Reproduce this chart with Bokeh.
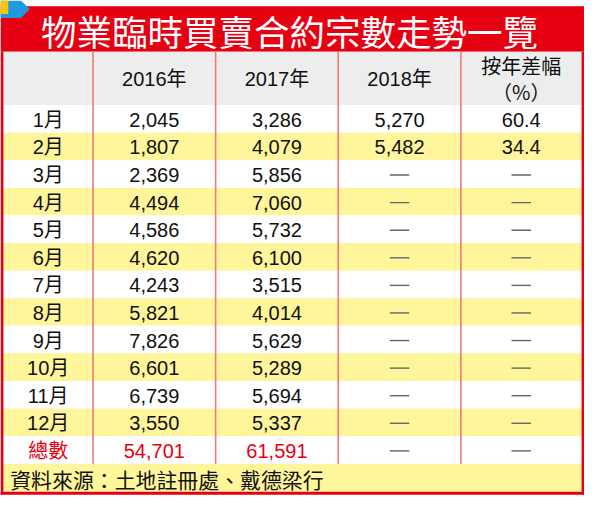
from bokeh.plotting import figure
from bokeh.models import Range1d, ColumnDataSource
from bokeh.core.properties import value
from bokeh.embed import file_html
from bokeh.resources import INLINE

# ---- data ----
title = "物業臨時買賣合約宗數走勢一覽"
months = ["1月", "2月", "3月", "4月", "5月", "6月", "7月", "8月", "9月", "10月", "11月", "12月"]
sales_2016 = [2045, 1807, 2369, 4494, 4586, 4620, 4243, 5821, 7826, 6601, 6739, 3550]
sales_2017 = [3286, 4079, 5856, 7060, 5732, 6100, 3515, 4014, 5629, 5289, 5694, 5337]
sales_2018 = [5270, 5482]
yoy_pct = [60.4, 34.4]
col_headers = ["", "2016年", "2017年", "2018年", "按年差幅\n（%）"]
total_label = "總數"
source_note = "資料來源：土地註冊處、戴德梁行"

# ---- layout (reference pixel space) ----
W, H = 600, 516
S = 584 / 600.0
title_top, title_bot = 6, 53
head_top, head_bot = 53, 108
n_rows = len(months) + 1
row_h = (478 - head_bot) / n_rows
foot_bot = 507
col_edges = [3, 95, 221, 347, 473, 597]
col_c = [(col_edges[i] + col_edges[i + 1]) / 2 for i in range(5)]

RED = "#E60012"
YEL = "#FFF59B"
GRAY = "#EDEDED"
LINE = "#F07A7A"
CJK = value("'Liberation Sans', 'Noto Sans CJK TC', sans-serif")
CJK_ONLY = value("'Noto Sans CJK TC', sans-serif")
BODY = 20.5

p = figure(width=584, height=500, x_range=Range1d(0, W), y_range=Range1d(H, 0),
           output_backend="svg", toolbar_location=None, min_border=0)
p.axis.visible = False
p.grid.visible = False
p.outline_line_color = None
p.background_fill_color = "white"
p.border_fill_color = "white"

def fs(px):
    return "%.1fpx" % (px * S)

# title band
p.quad(left=[0], right=[W], top=[title_top], bottom=[title_bot], fill_color=RED, line_color=None)
# corner decoration
p.patch([0, 21, 30, 21, 0], [0, 0, 9, 18, 18], fill_color="#1E9BE0", line_color=None)
p.quad(left=[0], right=[8], top=[0], bottom=[14], fill_color="#F7C600", line_color=None)
p.text(x=[W / 2 - 3], y=[(title_top + title_bot) / 2 + 1], text=[title], text_color="white",
       text_font=CJK_ONLY, text_font_size=fs(36.5), text_align="center", text_baseline="middle")

# header background
p.quad(left=[col_edges[0]], right=[col_edges[-1]], top=[head_top], bottom=[head_bot],
       fill_color=GRAY, line_color=None)

# row stripes
row_tops = [head_bot + i * row_h for i in range(n_rows)]
row_fill = [YEL if (i % 2 == 1 and i < len(months)) else "white" for i in range(n_rows)]
p.quad(left=[col_edges[0]] * n_rows, right=[col_edges[-1]] * n_rows, top=row_tops,
       bottom=[t + row_h for t in row_tops], fill_color=row_fill, line_color=None)
# footer
foot_top = head_bot + n_rows * row_h
p.quad(left=[col_edges[0]], right=[col_edges[-1]], top=[foot_top], bottom=[foot_bot],
       fill_color=YEL, line_color=None)

# vertical separators
p.segment(x0=col_edges[1:5], x1=col_edges[1:5], y0=[head_top] * 4, y1=[foot_top] * 4,
          line_color=LINE, line_width=1.6)

# red frame
p.quad(left=[0, 597, 0], right=[3, W, W], top=[title_bot, title_bot, foot_bot],
       bottom=[foot_bot + 3, foot_bot + 3, foot_bot + 3], fill_color=RED, line_color=None)

# header texts
hy = (head_top + head_bot) / 2
for i in range(1, 4):
    p.text(x=[col_c[i]], y=[hy], text=[col_headers[i]], text_color="#111111", text_font=CJK,
           text_font_size=fs(BODY), text_align="center", text_baseline="middle")
h1, h2 = col_headers[4].split("\n")
p.text(x=[col_c[4], col_c[4]], y=[hy - 13, hy + 13], text=[h1, h2], text_color="#111111",
       text_font=CJK_ONLY, text_font_size=fs(BODY), text_align="center", text_baseline="middle")

# body texts
def fmt(v):
    return "{:,}".format(v)

rows_y = [t + row_h / 2 + 1 for t in row_tops]
body_x, body_y, body_t = [], [], []
dash_x, dash_y = [], []
for i, m in enumerate(months):
    y = rows_y[i]
    body_x += [col_c[0], col_c[1], col_c[2]]
    body_y += [y, y, y]
    body_t += [m, fmt(sales_2016[i]), fmt(sales_2017[i])]
    if i < len(sales_2018):
        body_x += [col_c[3], col_c[4]]
        body_y += [y, y]
        body_t += [fmt(sales_2018[i]), "%.1f" % yoy_pct[i]]
    else:
        dash_x += [col_c[3], col_c[4]]
        dash_y += [y, y]
src = ColumnDataSource(dict(x=body_x, y=body_y, t=body_t))
p.text(x="x", y="y", text="t", source=src, text_color="#111111", text_font=CJK,
       text_font_size=fs(BODY), text_align="center", text_baseline="middle")

# total row
ty = rows_y[-1]
p.text(x=[col_c[0], col_c[1], col_c[2]], y=[ty] * 3,
       text=[total_label, fmt(sum(sales_2016)), fmt(sum(sales_2017))], text_color=RED,
       text_font=CJK, text_font_size=fs(BODY), text_align="center", text_baseline="middle")
dash_x += [col_c[3], col_c[4]]
dash_y += [ty, ty]

# dashes
p.segment(x0=[x - 10 for x in dash_x], x1=[x + 10 for x in dash_x], y0=dash_y, y1=dash_y,
          line_color="#666666", line_width=1.4)

# footer text
p.text(x=[10], y=[(foot_top + foot_bot) / 2 + 1], text=[source_note], text_color="#111111",
       text_font=CJK_ONLY, text_font_size=fs(21.5), text_align="left", text_baseline="middle")

open("out.html", "w").write(file_html(p, INLINE))
